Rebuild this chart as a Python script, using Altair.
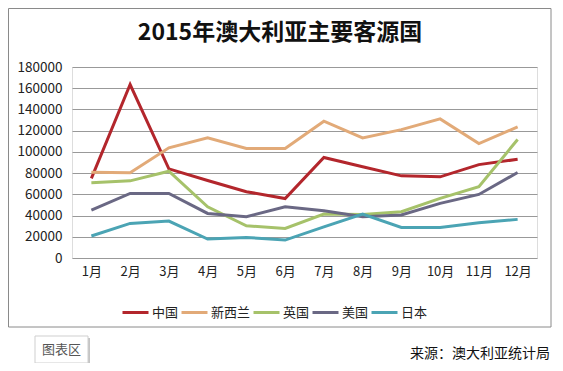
import altair as alt
import pandas as pd

months = ["1月", "2月", "3月", "4月", "5月", "6月", "7月", "8月", "9月", "10月", "11月", "12月"]
series = ["中国", "新西兰", "英国", "美国", "日本"]
china = [75000, 163500, 84000, 73000, 62500, 56000, 94700, 86000, 77400, 76500, 88000, 93000]
nz = [80900, 80300, 103800, 113200, 103200, 103200, 128900, 113200, 121000, 131100, 107900, 123500]
uk = [70900, 72700, 81800, 48300, 30400, 27900, 41400, 41000, 43600, 56200, 67100, 111700]
us = [45200, 60900, 60900, 42000, 38900, 48300, 44500, 38900, 40500, 51500, 59900, 80600]
japan = [20700, 32600, 34800, 17900, 19400, 16900, 29400, 41400, 28800, 28800, 33200, 36400]
y_ticks = [0, 20000, 40000, 60000, 80000, 100000, 120000, 140000, 160000, 180000]
colors = ["#B3262C", "#E2AA78", "#A6C26A", "#6A6884", "#4BA4B4"]

title_text = "2015年澳大利亚主要客源国"
source_text = "来源：澳大利亚统计局"
button_text = "图表区"

rows = []
for name, vals in zip(series, [china, nz, uk, us, japan]):
    for m, v in zip(months, vals):
        rows.append({"month": m, "value": v, "series": name})
df = pd.DataFrame(rows)

FONT = "Noto Sans CJK SC"

lines = alt.Chart(df).mark_line(strokeWidth=3).encode(
    x=alt.X("month:N", sort=months, title=None,
            scale=alt.Scale(type="point", padding=0.5),
            axis=alt.Axis(labelAngle=0, labelPadding=7, labelFontSize=13,
                          labelColor="#222", labelFont=FONT, grid=False,
                          domain=False, ticks=False)),
    y=alt.Y("value:Q", title=None,
            scale=alt.Scale(domain=[0, 180000], nice=False),
            axis=alt.Axis(values=y_ticks, format="d", labelPadding=10,
                          labelFontSize=13.5, labelColor="#222", labelFont=FONT,
                          grid=True, gridColor="#999999", gridWidth=1,
                          domain=False, ticks=False)),
    color=alt.Color("series:N", sort=series,
                    scale=alt.Scale(domain=series, range=colors),
                    legend=alt.Legend(orient="none", legendX=49, legendY=231,
                                      direction="horizontal", title=None,
                                      symbolType="stroke", symbolSize=676,
                                      symbolStrokeWidth=3, labelFontSize=13,
                                      labelFont=FONT, labelColor="#222",
                                      labelOffset=2, columnPadding=-4, padding=0,
                                      gridAlign="none")),
)

one = pd.DataFrame({"a": [0]})

border = alt.Chart(one).mark_rect(filled=False, stroke="#8a8a8a", strokeWidth=1).encode(
    x=alt.value(-63.5), x2=alt.value(479), y=alt.value(-58.5), y2=alt.value(260)
)

title = alt.Chart(one).mark_text(
    text=title_text, fontSize=23, fontWeight="bold", font=FONT,
    align="center", baseline="middle", color="#111111"
).encode(x=alt.value(208), y=alt.value(-34.5))

shadow = alt.Chart(one).mark_rect(fill="#c4c4c4").encode(
    x=alt.value(-35), x2=alt.value(18), y=alt.value(271), y2=alt.value(298)
)
button = alt.Chart(one).mark_rect(fill="white", stroke="#cfcfcf", strokeWidth=1).encode(
    x=alt.value(-37), x2=alt.value(16), y=alt.value(269), y2=alt.value(296)
)
button_label = alt.Chart(one).mark_text(
    text=button_text, fontSize=13, font=FONT, align="center", baseline="middle",
    color="#555555"
).encode(x=alt.value(-10.5), y=alt.value(283))

source = alt.Chart(one).mark_text(
    text=source_text, fontSize=14, font=FONT, align="right", baseline="middle",
    color="#111111"
).encode(x=alt.value(478), y=alt.value(287))

chart = alt.layer(border, lines, title, shadow, button, button_label, source).properties(
    width=465, height=191,
    autosize=alt.AutoSizeParams(type="none"),
    padding={"left": 64, "top": 59, "right": 18, "bottom": 105},
).configure_view(stroke=None).configure(background="white")

chart.save("out.html", embed_options={"renderer": "svg", "actions": False})
